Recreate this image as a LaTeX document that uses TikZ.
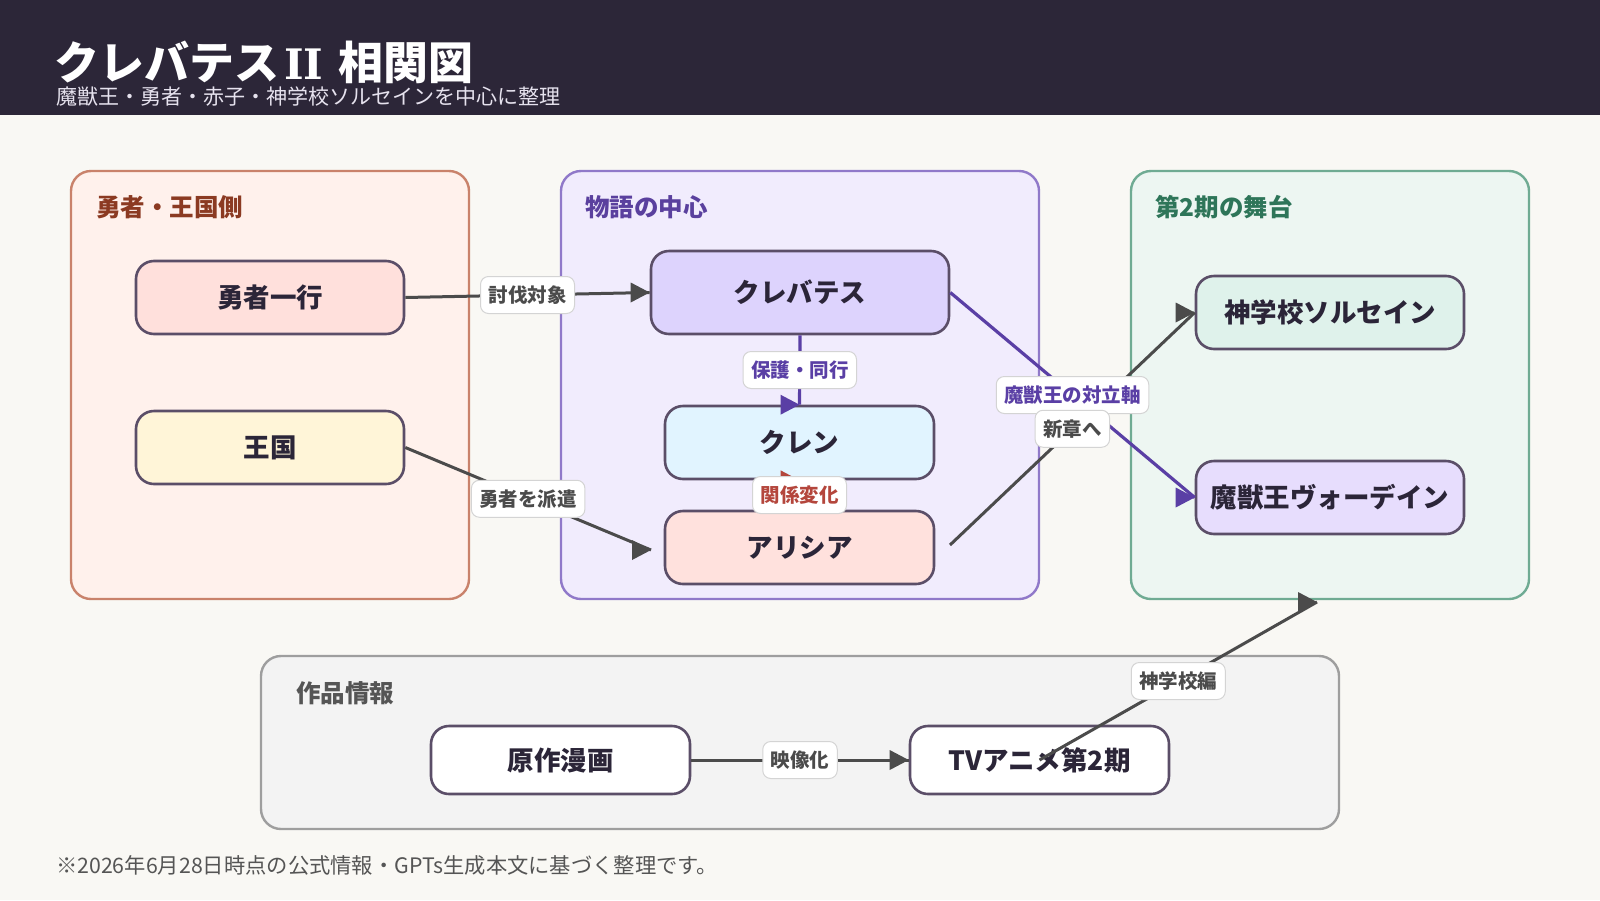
\documentclass[tikz,border=0pt]{standalone}
\usepackage{fontspec}
\setmainfont{Noto Sans CJK JP}
\newfontfamily\romanI{DejaVu Serif}
\definecolor{bg}{HTML}{F9F8F4}
\definecolor{hdr}{HTML}{2C2638}
\definecolor{subt}{HTML}{E6E2EE}
\definecolor{ink}{HTML}{2B2538}
\definecolor{nodeB}{HTML}{5B4E68}
\definecolor{gAF}{HTML}{FFF1EC}\definecolor{gAB}{HTML}{C9826B}\definecolor{gAT}{HTML}{8B3A22}
\definecolor{gBF}{HTML}{F1ECFD}\definecolor{gBB}{HTML}{9079C9}\definecolor{gBT}{HTML}{5A409E}
\definecolor{gCF}{HTML}{EDF6F2}\definecolor{gCB}{HTML}{6FAB93}\definecolor{gCT}{HTML}{2E7559}
\definecolor{gDF}{HTML}{F3F3F3}\definecolor{gDB}{HTML}{9E9E9E}\definecolor{gDT}{HTML}{555555}
\definecolor{fYusha}{HTML}{FFE0DC}
\definecolor{fOukoku}{HTML}{FFF5D8}
\definecolor{fKure}{HTML}{DDD3FD}
\definecolor{fKuren}{HTML}{E1F4FF}
\definecolor{fArisia}{HTML}{FFE1DD}
\definecolor{fShin}{HTML}{DFF2EB}
\definecolor{fMaju}{HTML}{E7DDFD}
\definecolor{eGray}{HTML}{4B4B4B}
\definecolor{ePurple}{HTML}{5A3FA5}
\definecolor{eRed}{HTML}{B4463C}
\definecolor{lblB}{HTML}{D4D4D4}
\definecolor{foot}{HTML}{555555}
\newcommand{\rtip}[2]{\fill[#1] (#2) -- ++(-19,10) -- ++(0,-20) -- cycle;}
\begin{document}
\begin{tikzpicture}[x=1pt,y=-1pt,
  grp/.style={line width=2.4pt, rounded corners=20pt},
  grptitle/.style={anchor=west, inner sep=0, font=\fontsize{24.5}{28}\selectfont\bfseries},
  box/.style={draw=nodeB, line width=2.6pt, rounded corners=18pt, inner sep=0,
    text=ink, font=\fontsize{26.5}{30}\selectfont\bfseries},
  nbox/.style={box, minimum width=268pt, minimum height=73pt},
  sbox/.style={box, minimum width=259pt, minimum height=68pt},
  lbl/.style={fill=white, draw=lblB, line width=1pt, rounded corners=8pt,
    inner xsep=8pt, inner ysep=0pt, minimum height=37pt,
    font=\fontsize{19.5}{22}\selectfont\bfseries},
  gline/.style={draw=eGray, line width=3pt},
  pline/.style={draw=ePurple, line width=3.2pt},
  rline/.style={draw=eRed, line width=3pt}]
\useasboundingbox (0,0) rectangle (1600,900);
\fill[bg] (0,0) rectangle (1600,900);
\fill[hdr] (0,0) rectangle (1600,115);
\node[anchor=west, inner sep=0, text=white, font=\fontsize{45}{50}\selectfont\bfseries] (title) at (54,62) {クレバテス\hspace{5pt}{\romanI\fontsize{42}{50}\selectfont II}\hspace{15pt}相関図};
\node[anchor=west, inner sep=0, text=subt, font=\fontsize{21}{24}\selectfont] (subtitle) at (56,97) {魔獣王・勇者・赤子・神学校ソルセインを中心に整理};
% groups
\draw[grp, fill=gAF, draw=gAB] (71,171) rectangle (469,599);
\draw[grp, fill=gBF, draw=gBB] (561,171) rectangle (1039,599);
\draw[grp, fill=gCF, draw=gCB] (1131,171) rectangle (1529,599);
\draw[grp, fill=gDF, draw=gDB] (261,656) rectangle (1339,829);
\node[grptitle, text=gAT] (tA) at (96,207) {勇者・王国側};
\node[grptitle, text=gBT] (tB) at (585,207) {物語の中心};
\node[grptitle, text=gCT] (tC) at (1155,207) {第2期の舞台};
\node[grptitle, text=gDT] (tD) at (296,693) {作品情報};
% nodes
\node[nbox, fill=fYusha] (yusha) at (270,297.5) {勇者一行};
\node[nbox, fill=fOukoku] (oukoku) at (270,447.5) {王国};
\node[box, fill=fKure, minimum width=298pt, minimum height=83pt] (kure) at (800,292.5) {クレバテス};
\node[nbox, fill=fKuren, minimum width=269pt] (kuren) at (799.5,442.5) {クレン};
\node[nbox, fill=fArisia, minimum width=269pt] (arisia) at (799.5,547.5) {アリシア};
\node[nbox, fill=fShin] (shin) at (1330,312.5) {神学校ソルセイン};
\node[nbox, fill=fMaju] (maju) at (1330,497.5) {魔獣王ヴォーデイン};
\node[sbox, fill=white] (gensaku) at (560.5,760) {原作漫画};
\node[sbox, fill=white] (tv) at (1039.5,760) {TVアニメ第2期};
% free ends
\coordinate (arisiaIn) at (651,550);
\coordinate (arisiaOut) at (950,545);
\coordinate (stageIn) at (1317,602);
% edges
\draw[gline] (yusha.east) -- (kure.west);
\draw[gline] (oukoku.east) -- (arisiaIn);
\draw[pline] (kure.south) -- (kuren.north);
\draw[rline] (arisia.north) -- (kuren.south);
\draw[pline] (kure.east) -- (maju.west);
\draw[gline] (arisiaOut) -- (shin.west);
\draw[gline] (gensaku.east) -- (tv.west);
\draw[gline] (tv.center) -- (stageIn);
% tips
\rtip{eGray}{kure.west}
\rtip{eGray}{arisiaIn}
\rtip{ePurple}{kuren.north}
\rtip{eRed}{kuren.south}
\rtip{ePurple}{maju.west}
\rtip{eGray}{shin.west}
\rtip{eGray}{tv.west}
\rtip{eGray}{stageIn}
% labels
\path (yusha.east) -- node[lbl, text=eGray] (l1) {討伐対象} (kure.west);
\path (oukoku.east) -- node[lbl, text=eGray] (l2) {勇者を派遣} (arisiaIn);
\path (kure.south) -- node[lbl, text=ePurple] (l3) {保護・同行} (kuren.north);
\path (arisia.north) -- node[lbl, text=eRed] (l4) {関係変化} (kuren.south);
\path (kure.east) -- node[lbl, text=ePurple] (l5) {魔獣王の対立軸} (maju.west);
\path (arisiaOut) -- node[lbl, text=eGray] (l6) {新章へ} (shin.west);
\path (gensaku.east) -- node[lbl, text=eGray] (l7) {映像化} (tv.west);
\path (tv.center) -- node[lbl, text=eGray] (l8) {神学校編} (stageIn);
% footnote
\node[anchor=west, inner sep=0, text=foot, font=\fontsize{21.3}{24}\selectfont] (note) at (56,865) {※2026年6月28日時点の公式情報・GPTs生成本文に基づく整理です。};
\end{tikzpicture}
\end{document}
